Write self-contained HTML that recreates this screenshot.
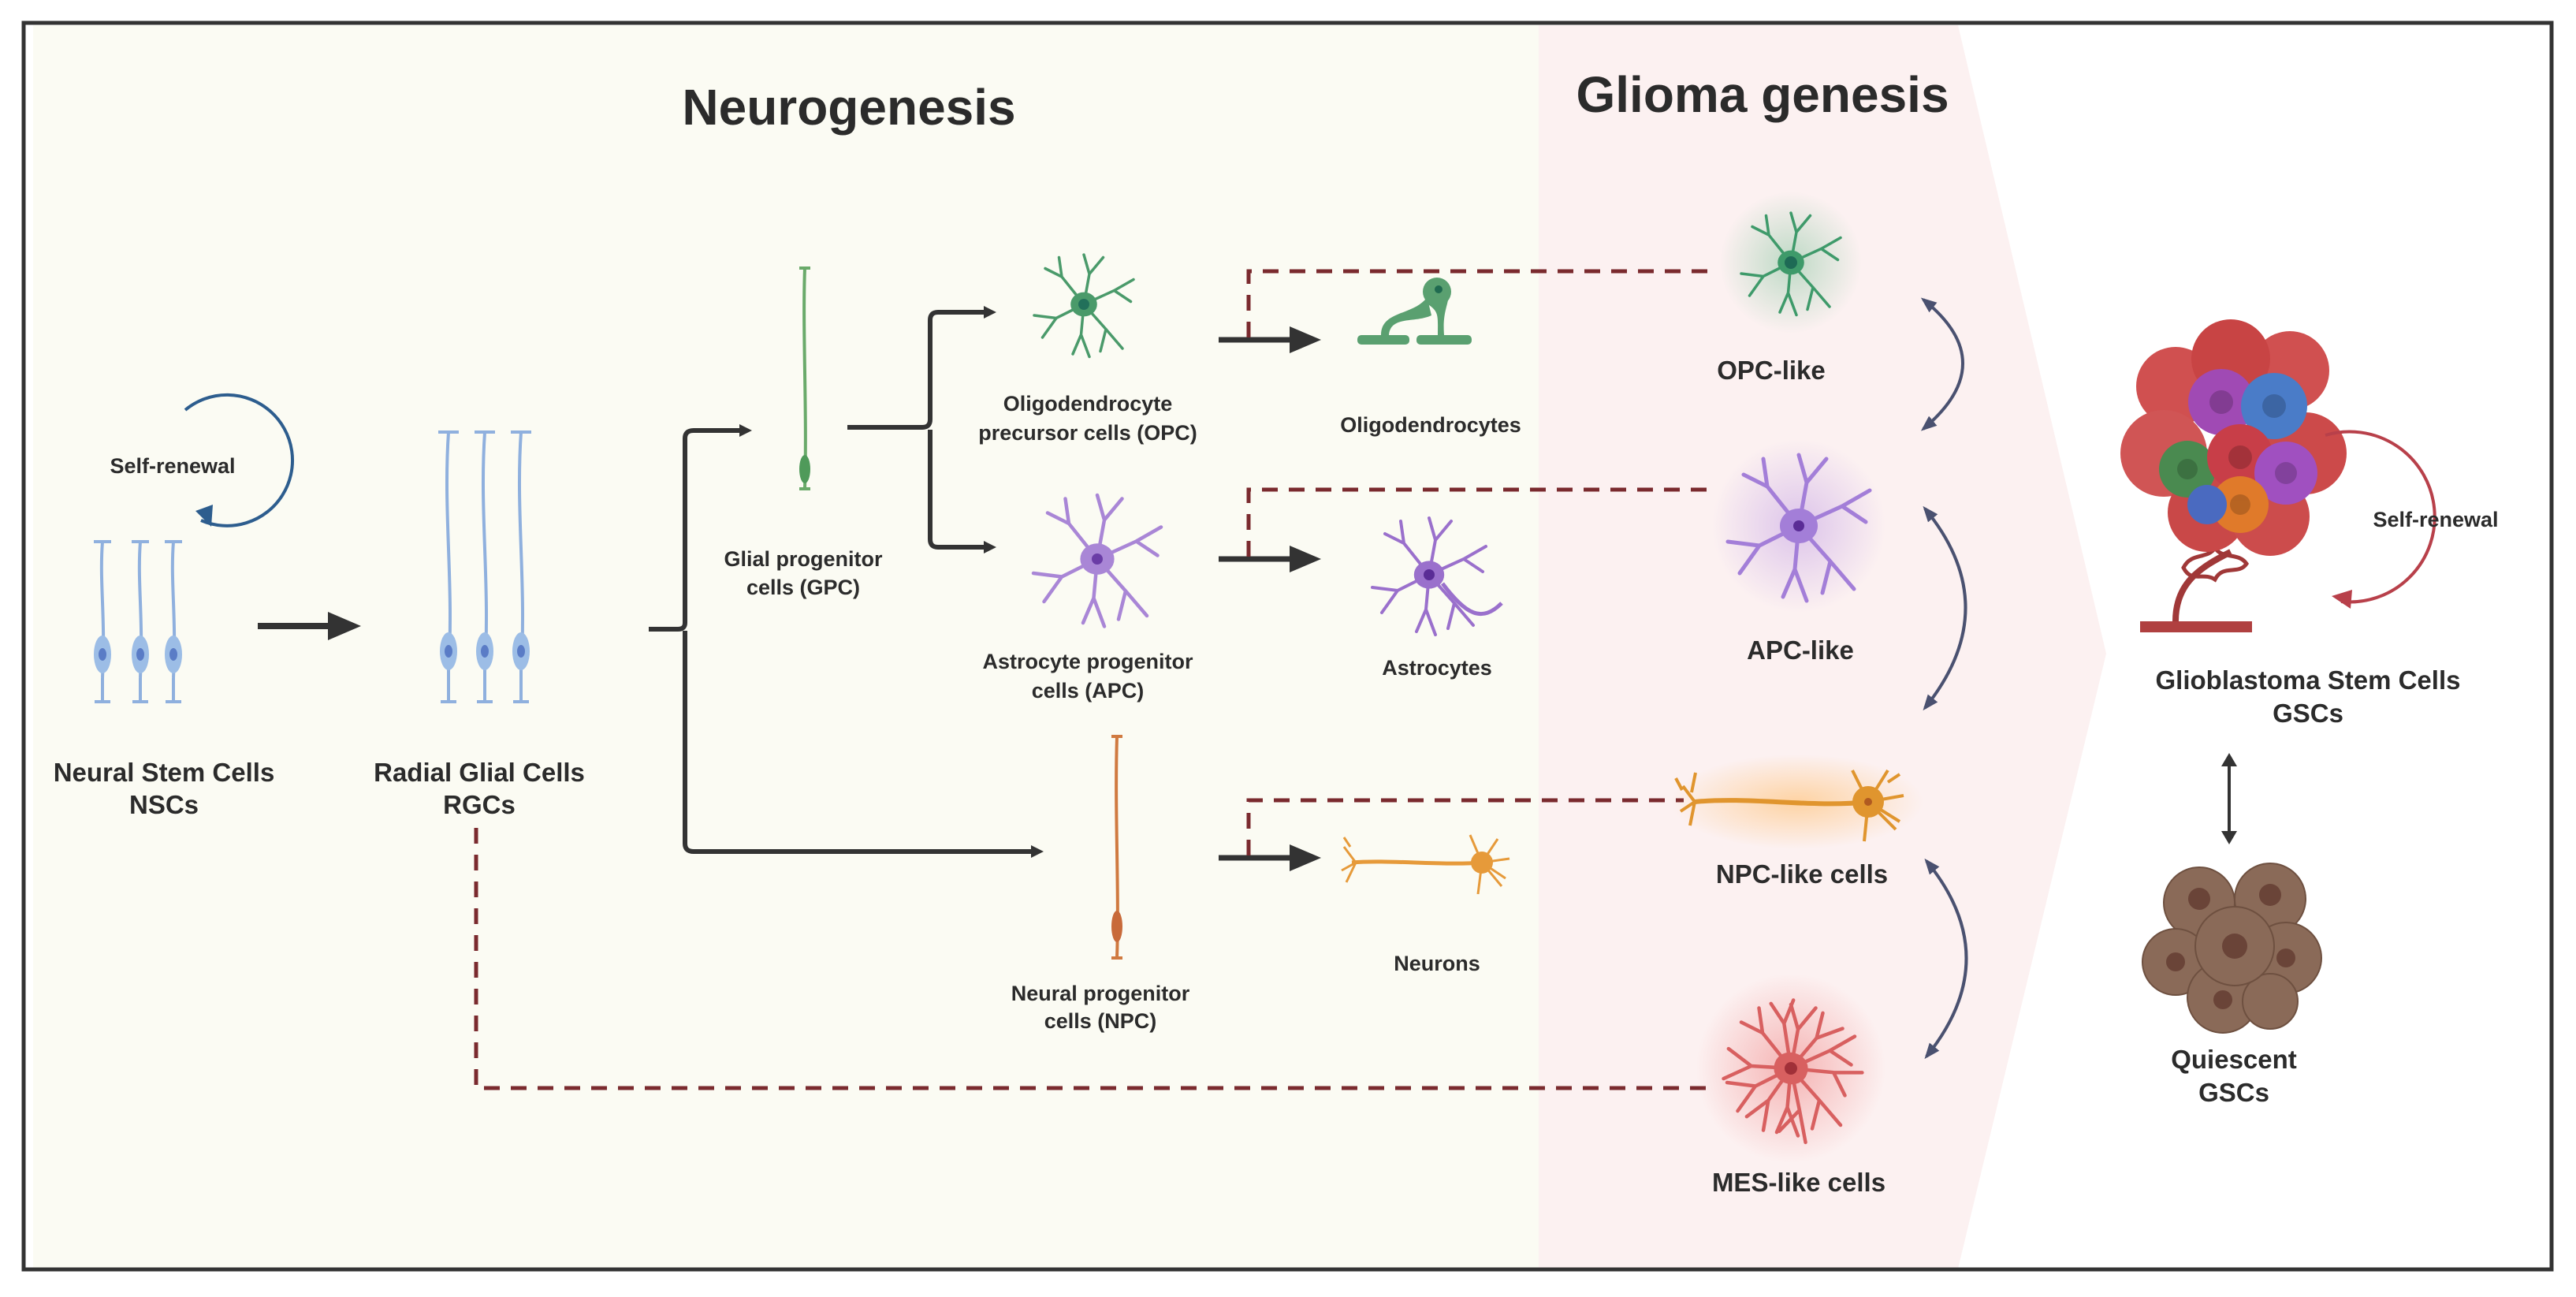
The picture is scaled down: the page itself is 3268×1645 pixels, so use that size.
<!DOCTYPE html>
<html><head><meta charset="utf-8"><style>
html,body{margin:0;padding:0;background:#fff}
svg{display:block}
text{font-family:"Liberation Sans",sans-serif;font-weight:bold;fill:#2b2b2b}
.l{font-size:32px}
.s{font-size:27px}
.g{font-size:33px}
</style></head><body>
<svg width="3268" height="1645" viewBox="0 0 3268 1645" xmlns="http://www.w3.org/2000/svg">
<defs>
<symbol id="star" viewBox="-100 -100 200 200" overflow="visible">
<g fill="none" stroke="currentColor" stroke-width="5" stroke-linecap="round">
<path d="M0 0 L-40 -50 L-70 -65 M-40 -50 L-45 -85"/>
<path d="M0 0 L10 -55 L0 -90 M10 -55 L35 -85"/>
<path d="M0 0 L55 -25 L90 -45 M55 -25 L85 -5"/>
<path d="M0 0 L40 45 L70 80 M40 45 L30 85"/>
<path d="M0 0 L-5 55 L-20 90 M-5 55 L10 95"/>
<path d="M0 0 L-50 25 L-90 20 M-50 25 L-75 60"/>
</g>
<ellipse cx="0" cy="0" rx="24" ry="22" fill="currentColor"/>
</symbol>
<radialGradient id="glowG"><stop offset="0" stop-color="#7fc29a" stop-opacity=".5"/><stop offset="1" stop-color="#7fc29a" stop-opacity="0"/></radialGradient>
<radialGradient id="glowP"><stop offset="0" stop-color="#c7a6e6" stop-opacity=".6"/><stop offset="1" stop-color="#c7a6e6" stop-opacity="0"/></radialGradient>
<radialGradient id="glowO"><stop offset="0" stop-color="#ffbf70" stop-opacity=".6"/><stop offset="1" stop-color="#ffbf70" stop-opacity="0"/></radialGradient>
<radialGradient id="glowR"><stop offset="0" stop-color="#f08a8a" stop-opacity=".6"/><stop offset="1" stop-color="#f08a8a" stop-opacity="0"/></radialGradient>
<marker id="ah" viewBox="0 0 10 10" refX="8" refY="5" markerWidth="4" markerHeight="4" orient="auto"><path d="M0 0L10 5L0 10z" fill="#333"/></marker>
<marker id="ahs" viewBox="0 0 10 10" refX="8" refY="5" markerWidth="5" markerHeight="5" orient="auto-start-reverse"><path d="M0 1L10 5L0 9z" fill="#4a5170"/></marker>
</defs>
<!-- backgrounds -->
<rect x="42" y="32" width="1912" height="1577" fill="#fbfbf3"/>
<polygon points="1952,32 2484,32 2672,829 2484,1609 1952,1609" fill="#fcf1f1"/>
<rect x="30" y="29" width="3207" height="1581" fill="none" stroke="#333" stroke-width="5"/>

<text x="1077" y="158" text-anchor="middle" style="font-size:64px">Neurogenesis</text>
<text x="2236" y="142" text-anchor="middle" style="font-size:64px">Glioma genesis</text>

<!-- self renewal left -->
<path d="M235 520 A83 83 0 1 1 255 660" fill="none" stroke="#2d5d8e" stroke-width="4"/>
<path d="M248 648 L270 640 L268 668 z" fill="#2d5d8e"/>
<text x="219" y="600" text-anchor="middle" class="s">Self-renewal</text>

<!-- NSC cells -->
<g stroke="#8fb0de" stroke-width="4" fill="none">
<path d="M119 687 h22 M130 687 C126 740 134 780 130 860 M130 860 V890 M120 890 h20"/>
<path d="M167 687 h22 M178 687 C174 740 182 780 178 860 M178 860 V890 M168 890 h20"/>
<path d="M209 687 h22 M220 687 C216 740 224 780 220 860 M220 860 V890 M210 890 h20"/>
<path d="M556 548 h26 M569 548 C562 650 576 740 569 850 V890 M559 890 h20"/>
<path d="M602 548 h26 M615 548 C608 650 622 740 615 850 V890 M605 890 h20"/>
<path d="M648 548 h26 M661 548 C654 650 668 740 661 850 V890 M651 890 h20"/>
</g>
<g fill="#9cbde6"><ellipse cx="130" cy="830" rx="11" ry="24"/><ellipse cx="178" cy="830" rx="11" ry="24"/><ellipse cx="220" cy="830" rx="11" ry="24"/>
<ellipse cx="569" cy="826" rx="11" ry="24"/><ellipse cx="615" cy="826" rx="11" ry="24"/><ellipse cx="661" cy="826" rx="11" ry="24"/></g>
<g fill="#5a7cc6"><ellipse cx="130" cy="830" rx="5" ry="8"/><ellipse cx="178" cy="830" rx="5" ry="8"/><ellipse cx="220" cy="830" rx="5" ry="8"/>
<ellipse cx="569" cy="826" rx="5" ry="8"/><ellipse cx="615" cy="826" rx="5" ry="8"/><ellipse cx="661" cy="826" rx="5" ry="8"/></g>
<text x="208" y="991" text-anchor="middle" class="g">Neural Stem Cells</text>
<text x="208" y="1032" text-anchor="middle" class="g">NSCs</text>
<text x="608" y="991" text-anchor="middle" class="g">Radial Glial Cells</text>
<text x="608" y="1032" text-anchor="middle" class="g">RGCs</text>

<!-- main arrow -->
<line x1="327" y1="794" x2="420" y2="794" stroke="#333" stroke-width="8"/>
<path d="M416 776 L458 794 L416 812z" fill="#333"/>

<!-- bracket 1 -->
<g fill="none" stroke="#333" stroke-width="6">
<path d="M823 798 H860 Q869 798 869 790 V556 Q869 546 880 546 H940"/>
<path d="M869 800 V1070 Q869 1080 880 1080 H1310"/>
<path d="M1075 542 H1170 Q1180 542 1180 532 V406 Q1180 396 1190 396 H1250"/>
<path d="M1180 545 V684 Q1180 694 1190 694 H1250"/>
</g>
<path d="M938 538 L954 546 L938 554z M1308 1072 L1324 1080 L1308 1088z M1248 388 L1264 396 L1248 404z M1248 686 L1264 694 L1248 702z" fill="#333"/>

<!-- GPC -->
<path d="M1014 340 h14 M1021 340 C1018 420 1024 520 1021 620 M1014 620 h14" stroke="#6aaa6a" stroke-width="4" fill="none"/>
<ellipse cx="1021" cy="595" rx="7" ry="18" fill="#4f9a5a"/>
<text x="1019" y="718" text-anchor="middle" class="s">Glial progenitor</text>
<text x="1019" y="754" text-anchor="middle" class="s">cells (GPC)</text>

<!-- OPC -->
<use href="#star" x="1305" y="316" width="140" height="140" style="color:#4a9a6a"/>
<circle cx="1375" cy="386" r="7" fill="#22705a"/>
<text x="1380" y="521" text-anchor="middle" class="s">Oligodendrocyte</text>
<text x="1380" y="558" text-anchor="middle" class="s">precursor cells (OPC)</text>
<!-- APC -->
<use href="#star" x="1302" y="619" width="180" height="180" style="color:#a986d6"/>
<circle cx="1392" cy="709" r="7" fill="#6a3ca6"/>
<text x="1380" y="848" text-anchor="middle" class="s">Astrocyte progenitor</text>
<text x="1380" y="885" text-anchor="middle" class="s">cells (APC)</text>
<!-- NPC -->
<path d="M1410 934 h14 M1417 934 C1414 1030 1420 1130 1417 1215 M1410 1215 h14" stroke="#d07a40" stroke-width="4" fill="none"/>
<ellipse cx="1417" cy="1175" rx="7" ry="20" fill="#c86a3a"/>
<text x="1396" y="1269" text-anchor="middle" class="s">Neural progenitor</text>
<text x="1396" y="1304" text-anchor="middle" class="s">cells (NPC)</text>

<!-- arrows to mature -->
<g stroke="#333" stroke-width="7"><line x1="1546" y1="431" x2="1640" y2="431"/><line x1="1546" y1="709" x2="1640" y2="709"/><line x1="1546" y1="1088" x2="1640" y2="1088"/></g>
<path d="M1636 414 L1676 431 L1636 448z M1636 692 L1676 709 L1636 726z M1636 1071 L1676 1088 L1636 1105z" fill="#333"/>

<!-- dashed -->
<g fill="none" stroke="#7a2a2e" stroke-width="5" stroke-dasharray="20 14">
<path d="M1584 428 V344 H2178"/>
<path d="M1584 706 V621 H2178"/>
<path d="M1584 1085 V1015 H2136"/>
<path d="M604 1050 V1380 H2178"/>
</g>

<!-- oligodendrocyte -->
<g fill="#5aa070"><rect x="1722" y="425" width="66" height="12" rx="5"/><rect x="1797" y="425" width="70" height="12" rx="5"/>
<path d="M1752 425 C1752 395 1790 400 1808 380 L1810 375 L1816 400 C1795 410 1764 400 1762 425z"/>
<path d="M1808 375 C1816 350 1840 355 1838 375 C1836 390 1830 398 1832 425 L1824 425 C1824 400 1826 395 1810 385z"/>
<circle cx="1823" cy="370" r="18"/></g>
<circle cx="1825" cy="367" r="5" fill="#206a50"/>
<text x="1815" y="548" text-anchor="middle" class="s">Oligodendrocytes</text>
<!-- astrocyte -->
<use href="#star" x="1733" y="649" width="160" height="160" style="color:#9a70cc"/>
<path d="M1830 740 C1860 780 1880 790 1905 765" stroke="#9a70cc" stroke-width="5" fill="none"/>
<circle cx="1813" cy="729" r="7" fill="#5a2c96"/>
<text x="1823" y="856" text-anchor="middle" class="s">Astrocytes</text>
<!-- neuron -->
<path d="M1715 1094 C1760 1090 1830 1098 1880 1094" stroke="#e69a3a" stroke-width="5" fill="none"/>
<g stroke="#e69a3a" stroke-width="3" fill="none"><path d="M1720 1094 l-15 -20 m15 20 l-18 10 m18 -10 l-12 25 m5 -45 l-8 -12"/>
<path d="M1880 1094 l20 -30 m-20 30 l35 -5 m-35 5 l25 30 m-25 -30 l-5 40 m5 -40 l-15 -35 m15 35 l30 20"/></g>
<circle cx="1880" cy="1094" r="14" fill="#e69a3a"/>
<text x="1823" y="1231" text-anchor="middle" class="s">Neurons</text>

<!-- glioma side cells -->
<circle cx="2272" cy="333" r="90" fill="url(#glowG)"/>
<use href="#star" x="2202" y="263" width="140" height="140" style="color:#3e9a6a"/>
<circle cx="2272" cy="333" r="8" fill="#1e6a55"/>
<text x="2247" y="481" text-anchor="middle" class="g">OPC-like</text>

<circle cx="2282" cy="667" r="110" fill="url(#glowP)"/>
<use href="#star" x="2182" y="567" width="200" height="200" style="color:#a37ed8"/>
<circle cx="2282" cy="667" r="7" fill="#5a2c96"/>
<text x="2284" y="836" text-anchor="middle" class="g">APC-like</text>

<ellipse cx="2280" cy="1017" rx="160" ry="60" fill="url(#glowO)"/>
<path d="M2150 1017 C2220 1010 2300 1025 2370 1017" stroke="#e0952e" stroke-width="6" fill="none"/>
<g stroke="#e0952e" stroke-width="4" fill="none"><path d="M2150 1017 l-15 -20 m15 20 l-18 12 m18 -12 l-6 30 m-10 -45 l-8 -15 m20 18 l5 -25"/>
<path d="M2370 1017 l25 -40 m-25 40 l45 -8 m-45 8 l35 35 m-35 -35 l-5 50 m5 -50 l-20 -40 m20 40 l40 25 m-15 -50 l15 -10"/></g>
<circle cx="2370" cy="1017" r="20" fill="#e0952e"/>
<circle cx="2370" cy="1017" r="5" fill="#b05a20"/>
<text x="2286" y="1120" text-anchor="middle" class="g">NPC-like cells</text>

<circle cx="2272" cy="1355" r="120" fill="url(#glowR)"/>
<g transform="translate(2272,1355)">
<use href="#star" x="-90" y="-90" width="180" height="180" style="color:#d86060"/>
<use href="#star" x="-90" y="-90" width="180" height="180" transform="rotate(30)" style="color:#d86060"/>
</g>
<circle cx="2272" cy="1355" r="8" fill="#a03038"/>
<text x="2282" y="1511" text-anchor="middle" class="g">MES-like cells</text>

<!-- curved double arrows -->
<g fill="none" stroke="#4a5170" stroke-width="4" marker-start="url(#ahs)" marker-end="url(#ahs)">
<path d="M2440 380 Q2540 460 2440 544"/>
<path d="M2442 645 Q2545 770 2442 898"/>
<path d="M2444 1092 Q2545 1215 2444 1340"/>
</g>

<!-- tumor -->
<g>
<rect x="2715" y="788" width="142" height="14" fill="#b04040"/>
<path d="M2760 788 C2760 740 2790 720 2830 700" stroke="#a03838" stroke-width="8" fill="none"/>
<path d="M2770 720 c10 -20 30 -10 40 -25 c10 15 30 5 40 20 c-10 15 -30 0 -40 20 c-15 -10 -30 5 -40 -15z" fill="none" stroke="#a03838" stroke-width="5"/>
<circle cx="2832" cy="435" r="25" fill="#e6a6a0"/>
<circle cx="2760" cy="490" r="50" fill="#d05050"/><circle cx="2905" cy="470" r="50" fill="#d05050"/>
<circle cx="2830" cy="455" r="50" fill="#c84444"/>
<circle cx="2745" cy="575" r="55" fill="#d05555"/><circle cx="2925" cy="575" r="52" fill="#cc4a4a"/>
<circle cx="2800" cy="650" r="50" fill="#c94848"/><circle cx="2880" cy="655" r="50" fill="#cc4c4c"/>
<circle cx="2818" cy="510" r="42" fill="#a04ab4"/><circle cx="2885" cy="515" r="42" fill="#4a7cc8"/>
<circle cx="2775" cy="595" r="36" fill="#4a8a50"/><circle cx="2842" cy="580" r="42" fill="#c83e48"/>
<circle cx="2900" cy="600" r="40" fill="#a050c0"/><circle cx="2842" cy="640" r="36" fill="#e07a2a"/>
<circle cx="2800" cy="640" r="25" fill="#4a6ac0"/>
<g fill="#000" opacity=".18"><circle cx="2818" cy="510" r="15"/><circle cx="2885" cy="515" r="15"/><circle cx="2842" cy="580" r="15"/><circle cx="2900" cy="600" r="14"/><circle cx="2842" cy="640" r="13"/><circle cx="2775" cy="595" r="13"/></g>
</g>
<path d="M2950 552 A108 108 0 1 1 2970 763" fill="none" stroke="#b8404a" stroke-width="4"/>
<path d="M2958 756 L2984 748 L2982 772z" fill="#b8404a"/>
<text x="3090" y="668" text-anchor="middle" class="s">Self-renewal</text>
<text x="2928" y="874" text-anchor="middle" class="g">Glioblastoma Stem Cells</text>
<text x="2928" y="916" text-anchor="middle" class="g">GSCs</text>
<line x1="2828" y1="970" x2="2828" y2="1056" stroke="#333" stroke-width="4"/>
<path d="M2818 972 L2828 955 L2838 972z M2818 1054 L2828 1071 L2838 1054z" fill="#333"/>

<!-- quiescent -->
<g fill="#8a6a58" stroke="#6e5040" stroke-width="2">
<circle cx="2790" cy="1145" r="45"/><circle cx="2880" cy="1140" r="45"/><circle cx="2760" cy="1220" r="42"/>
<circle cx="2900" cy="1215" r="45"/><circle cx="2820" cy="1265" r="45"/><circle cx="2880" cy="1270" r="35"/>
<circle cx="2835" cy="1200" r="50"/></g>
<g fill="#6a4438"><circle cx="2790" cy="1140" r="14"/><circle cx="2880" cy="1135" r="14"/><circle cx="2835" cy="1200" r="16"/><circle cx="2760" cy="1220" r="12"/><circle cx="2900" cy="1215" r="12"/><circle cx="2820" cy="1268" r="12"/></g>
<text x="2834" y="1355" text-anchor="middle" class="g">Quiescent</text>
<text x="2834" y="1397" text-anchor="middle" class="g">GSCs</text>
</svg>
</body></html>
